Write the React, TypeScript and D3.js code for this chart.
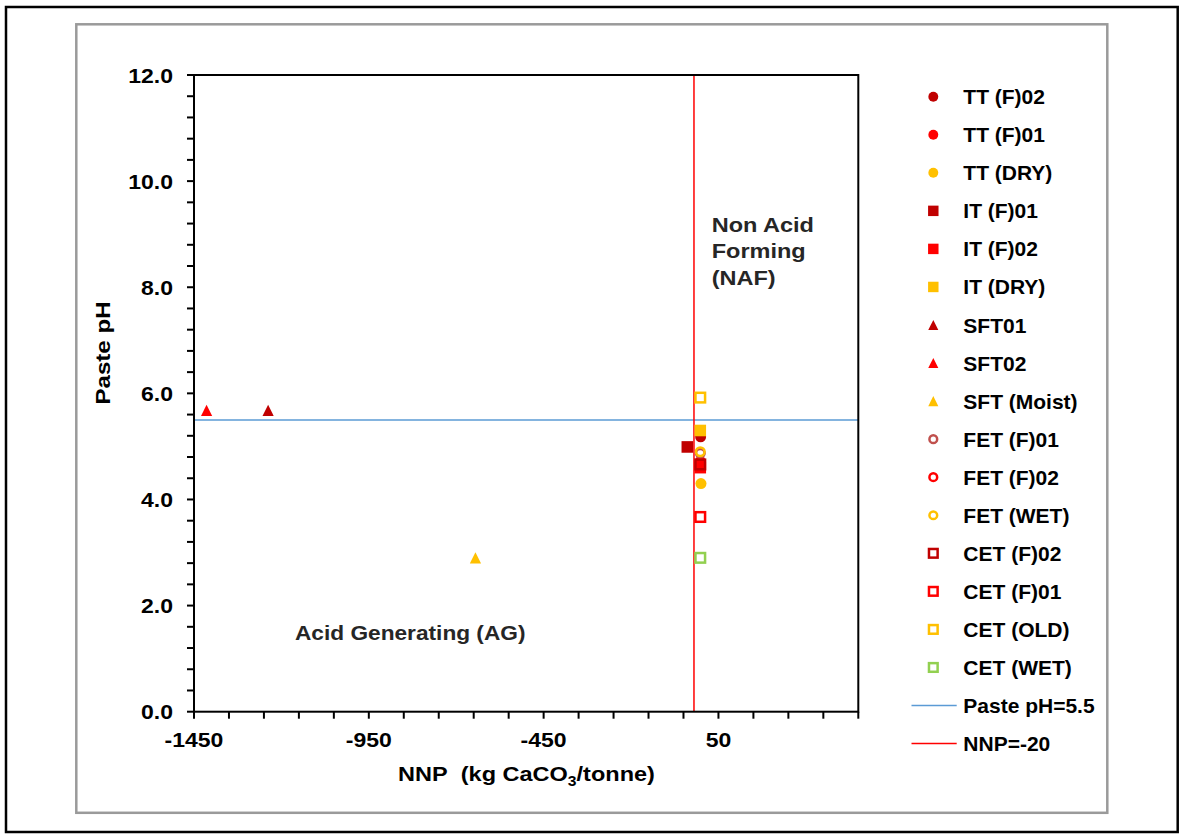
import React from 'react';
import * as d3 from 'd3';

// series, in the order the chart draws them
const seriesNames = [
  'TT (F)02', 'TT (F)01', 'TT (DRY)',
  'IT (F)01', 'IT (F)02', 'IT (DRY)',
  'SFT01', 'SFT02', 'SFT (Moist)',
  'FET (F)01', 'FET (F)02', 'FET (WET)',
  'CET (F)02', 'CET (F)01', 'CET (OLD)', 'CET (WET)'
];
const nnpValues = [-1, -2, 0, -39, -2, -2, -1238, -1414, -645, -2, -2, -2, -2, -2, -2, -2];
const phValues = [5.18, 4.72, 4.3, 4.99, 4.6, 5.3, 5.68, 5.68, 2.9, 4.87, 4.62, 4.9, 4.66, 3.67, 5.92, 2.9];

const xTickLabels = [-1450, -950, -450, 50];
const yTickLabels = [0, 2, 4, 6, 8, 10, 12];
const phLimit = 5.5;
const nnpLimit = -20;
const lineNames = ['Paste pH=5.5', 'NNP=-20'];

const seriesColors = [
  '#C00000', '#FF0000', '#FFC000',
  '#C00000', '#FF0000', '#FFC000',
  '#C00000', '#FF0000', '#FFC000',
  '#C0504D', '#FF0000', '#FFC000',
  '#C00000', '#FF0000', '#FFC000', '#92D050'
];
const seriesShapes = [
  'circle', 'circle', 'circle',
  'square', 'square', 'square',
  'triangle', 'triangle', 'triangle',
  'ocircle', 'ocircle', 'ocircle',
  'osquare', 'osquare', 'osquare', 'osquare'
];
const lineColors = ['#5B9BD5', '#FF0000'];

const FONT = '"Liberation Sans", Arial, sans-serif';

const margin = { left: 194, top: 75, right: 858.3, bottom: 711.7 };

function Marker({ shape, color, x, y, k = 1 }: any) {
  if (shape === 'circle') return <circle cx={x} cy={y} r={5.5 * k} fill={color} />;
  if (shape === 'square') {
    const s = 11.6 * k;
    return <rect x={x - s / 2} y={y - s / 2} width={s} height={s} fill={color} />;
  }
  if (shape === 'triangle') {
    const h = 5.6 * k;
    return <path d={`M${x},${y - h}L${x + h},${y + h}L${x - h},${y + h}Z`} fill={color} />;
  }
  if (shape === 'ocircle')
    return <circle cx={x} cy={y} r={4.3 * k} fill="none" stroke={color} strokeWidth={2.5} />;
  const s = 9.6 * k;
  return <rect x={x - s / 2} y={y - s / 2} width={s} height={s} fill="none" stroke={color} strokeWidth={2.5} />;
}

function SText({ x, y, sx = 1, rotate = 0, anchor = 'start', size = 20, weight = 'bold', fill = '#000', children }: any) {
  return (
    <text
      transform={`translate(${x},${y}) rotate(${rotate}) scale(${sx},1)`}
      textAnchor={anchor}
      fontFamily={FONT}
      fontSize={size}
      fontWeight={weight}
      fill={fill}
    >
      {children}
    </text>
  );
}

export default function App() {
  const x = d3.scaleLinear().domain([-1450, 450]).range([margin.left, margin.right]);
  const y = d3.scaleLinear().domain([0, 12]).range([margin.bottom, margin.top]);

  const xMinor = d3.range(-1450, 451, 100);
  const yMinor = d3.range(0, 12.01, 0.4);

  return (
    <svg
      width={1179}
      height={835}
      style={{ position: 'absolute', left: 0, top: 0, background: '#fff' }}
    >
      <rect x={6} y={7} width={1171.7} height={825} fill="#fff" stroke="#000" strokeWidth={2.5} />
      <rect x={76.3} y={24.3} width={1031} height={788.5} fill="#fff" stroke="#9a9a9a" strokeWidth={2.5} />

      {/* reference lines */}
      <line x1={margin.left} x2={margin.right} y1={y(phLimit)} y2={y(phLimit)} stroke={lineColors[0]} strokeWidth={1.5} />
      <line x1={x(nnpLimit)} x2={x(nnpLimit)} y1={margin.top} y2={margin.bottom} stroke={lineColors[1]} strokeWidth={1.5} />

      {/* ticks */}
      {xMinor.map((t) => (
        <line key={'xt' + t} x1={x(t)} x2={x(t)} y1={margin.bottom} y2={margin.bottom + 7} stroke="#000" strokeWidth={2} />
      ))}
      {yMinor.map((t) => (
        <line key={'yt' + t} x1={margin.left - 7} x2={margin.left} y1={y(t)} y2={y(t)} stroke="#000" strokeWidth={2} />
      ))}

      {/* plot frame */}
      <rect
        x={margin.left}
        y={margin.top}
        width={margin.right - margin.left}
        height={margin.bottom - margin.top}
        fill="none"
        stroke="#000"
        strokeWidth={2}
      />

      {xTickLabels.map((t) => (
        <SText key={'xl' + t} x={x(t)} y={margin.bottom + 35} sx={1.15} anchor="middle">
          {t}
        </SText>
      ))}
      {yTickLabels.map((t) => (
        <SText key={'yl' + t} x={173} y={y(t) + 7.5} sx={1.15} anchor="end">
          {t.toFixed(1)}
        </SText>
      ))}

      <SText x={110} y={353} rotate={-90} sx={1.15} anchor="middle" size={21}>
        Paste pH
      </SText>
      <SText x={526.5} y={781} sx={1.12} anchor="middle" size={21}>
        NNP{'\u00a0\u00a0'}(kg CaCO
        <tspan fontSize={14} dy={5}>3</tspan>
        <tspan dy={-5}>/tonne)</tspan>
      </SText>

      {/* annotations */}
      <SText x={711.7} y={231.7} sx={1.12} size={21} fill="#262626">Non Acid</SText>
      <SText x={711.7} y={258.4} sx={1.12} size={21} fill="#262626">Forming</SText>
      <SText x={711.7} y={285} sx={1.12} size={21} fill="#262626">(NAF)</SText>
      <SText x={295} y={640} sx={1.08} size={21} fill="#262626">Acid Generating (AG)</SText>

      {/* data */}
      {seriesNames.map((name, i) => (
        <Marker key={name} shape={seriesShapes[i]} color={seriesColors[i]} x={x(nnpValues[i])} y={y(phValues[i])} />
      ))}

      {/* legend */}
      {seriesNames.map((name, i) => {
        const ly = 96.7 + i * 38.05;
        return (
          <g key={'lg' + name}>
            <Marker shape={seriesShapes[i]} color={seriesColors[i]} x={933.3} y={ly} k={0.9} />
            <SText x={963.3} y={ly + 7.5} size={21}>{name}</SText>
          </g>
        );
      })}
      {lineNames.map((name, j) => {
        const ly = 96.7 + (seriesNames.length + j) * 38.05;
        return (
          <g key={'ll' + name}>
            <line x1={911.5} x2={956.7} y1={ly} y2={ly} stroke={lineColors[j]} strokeWidth={1.5} />
            <SText x={963.3} y={ly + 7.5} size={21}>{name}</SText>
          </g>
        );
      })}
    </svg>
  );
}
